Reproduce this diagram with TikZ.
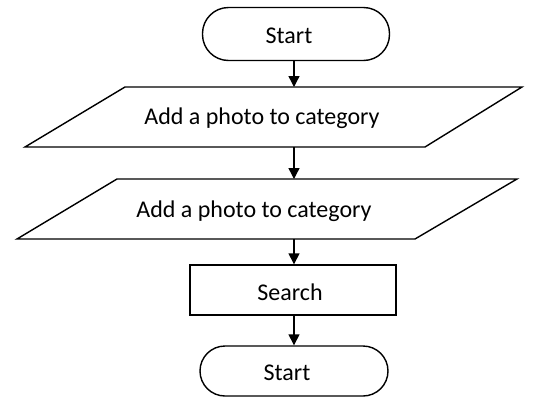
\documentclass[tikz,border=0pt]{standalone}
\usepackage{fontspec}
\setmainfont{Carlito}
\usetikzlibrary{arrows.meta}
\tikzset{
  outline/.style={draw=black, line width=1.4pt, fill=white},
  term/.style={outline, rounded corners=26pt, minimum width=187pt, minimum height=53pt, inner sep=0pt},
  proc/.style={outline, minimum width=206pt, minimum height=50pt, inner sep=0pt},
  label/.style={font=\fontsize{24}{28}\selectfont, inner sep=0pt},
  flow/.style={draw=black, line width=1.4pt, -{Triangle[width=11pt,length=11pt]}}
}
\begin{document}
\begin{tikzpicture}[x=1pt,y=-1pt]
\useasboundingbox (0,0) rectangle (539,397);
% start terminal
\node[term] (start) at (296,34) {};
\node[label] (startT) at (289,36) {Start};
% parallelogram 1
\draw[outline] (125,87) -- (522,87) -- (425,147) -- (25,147) -- cycle;
\coordinate (io1top) at (294,87);
\coordinate (io1bot) at (294,147);
\node[label] (io1) at (262,118) {Add a photo to category};
% parallelogram 2
\draw[outline] (117,179) -- (517,179) -- (415,239) -- (17,239) -- cycle;
\coordinate (io2top) at (294,179);
\coordinate (io2bot) at (294,239);
\node[label] (io2) at (254,211) {Add a photo to category};
% process
\node[proc] (search) at (293,290) {};
\node[label] (searchT) at (290,292) {Search};
% end terminal
\node[term, minimum width=188pt, minimum height=50pt, rounded corners=25pt] (stop) at (294,371) {};
\node[label] (stopT) at (287,373) {Start};
% connectors
\draw[flow] (294,0 |- start.south) -- (io1top);
\draw[flow] (io1bot) -- (io2top);
\draw[flow] (io2bot) -- (294,0 |- search.north);
\draw[flow] (294,0 |- search.south) -- (294,0 |- stop.north);
\end{tikzpicture}
\end{document}
